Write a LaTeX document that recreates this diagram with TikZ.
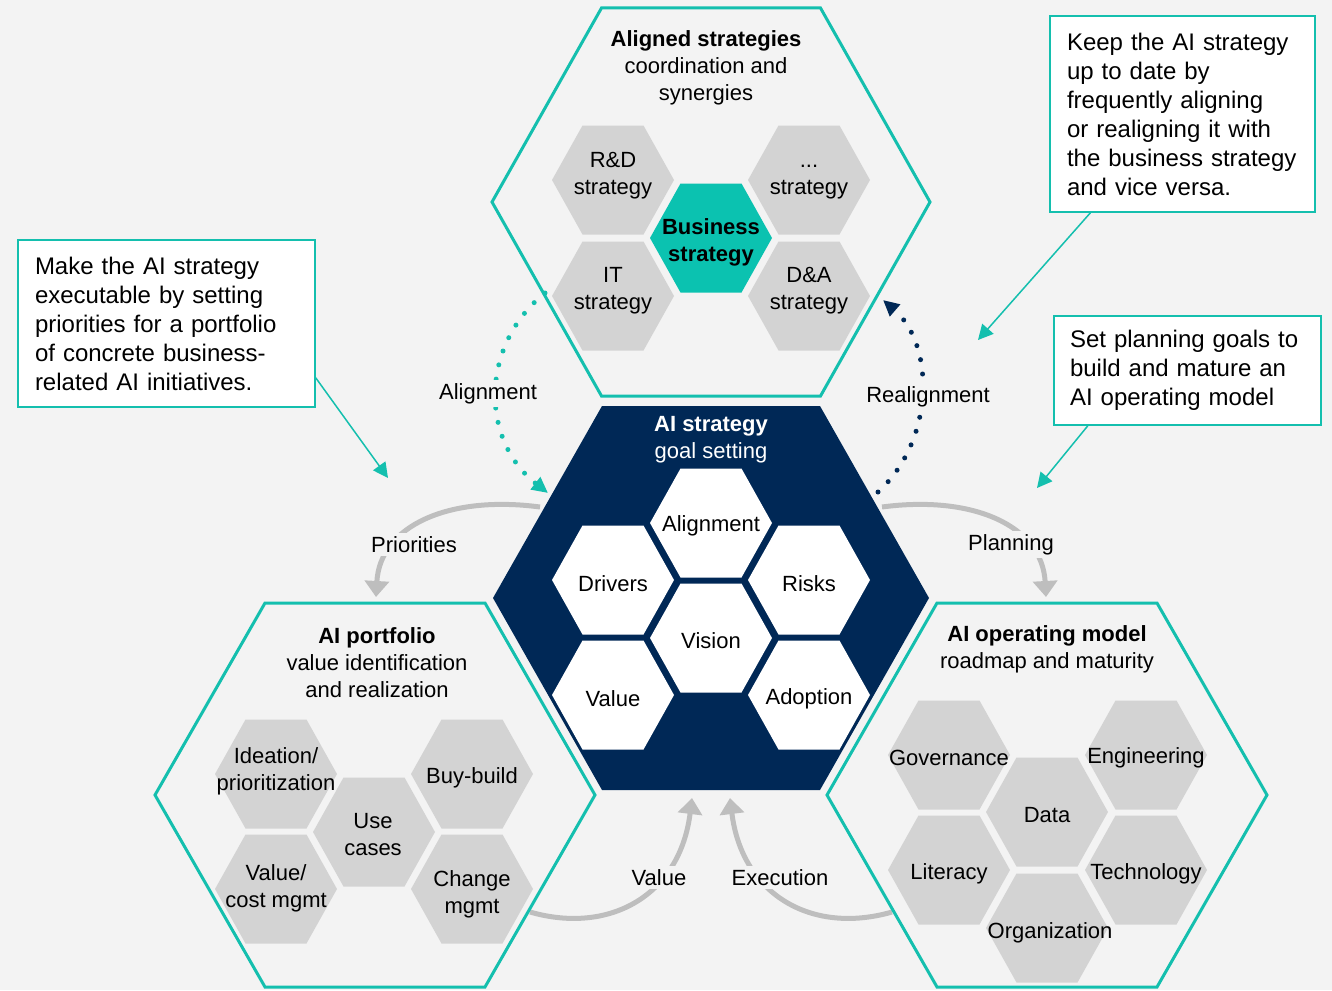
\documentclass[tikz,border=0pt]{standalone}
\usepackage{fontspec}
\setmainfont{Liberation Sans}
\usetikzlibrary{arrows.meta}
\definecolor{bg}{HTML}{F3F3F3}
\definecolor{tealline}{HTML}{14BFAE}
\definecolor{navy}{HTML}{002856}
\definecolor{hexgray}{HTML}{D3D3D3}
\definecolor{arcgray}{HTML}{BEBEBE}
\definecolor{bizteal}{HTML}{0BC2B0}
\newcommand{\myhex}[5]{\path[#1] ({#2+#4},#3) -- ({#2+#4/2},{#3-#5}) -- ({#2-#4/2},{#3-#5}) -- ({#2-#4},#3) -- ({#2-#4/2},{#3+#5}) -- ({#2+#4/2},{#3+#5}) -- cycle;}
\begin{document}
\begin{tikzpicture}[x=1pt,y=-1pt,
  txt/.style={font=\fontsize{22}{27}\selectfont, align=center, inner sep=0pt, yshift=-2.5pt},
  lbl/.style={font=\fontsize{22}{27}\selectfont, fill=bg, inner sep=3pt, yshift=-2.5pt},
  callout/.style={draw=tealline, line width=1.5pt, fill=white, align=left,
    font=\fontsize{24}{29}\selectfont, inner xsep=17pt, inner ysep=0pt},
  outerhex/.style={fill=bg, draw=tealline, line width=3pt},
  grayhex/.style={fill=hexgray},
  whitehex/.style={fill=white},
  grayarc/.style={draw=arcgray, line width=5pt, -{Triangle[length=16pt,width=24pt]}},
  dotteal/.style={draw=tealline, line width=5pt, line cap=round, dash pattern=on 0pt off 14.5pt,
    -{Triangle[length=16pt,width=15pt,fill=tealline]}},
  dotnavy/.style={draw=navy, line width=5pt, line cap=round, dash pattern=on 0pt off 14.5pt,
    -{Triangle[length=16pt,width=15pt,fill=navy]}},
  callarrow/.style={draw=tealline, line width=1.5pt, -{Triangle[length=15pt,width=15pt]}}
]
\fill[bg] (0,0) rectangle (1332,990);
\useasboundingbox (0,0) rectangle (1332,990);

% gray arcs (under the hexagons)
\coordinate (p1s) at (540,507); \coordinate (p1e) at (376,597);
\coordinate (p2s) at (882,507); \coordinate (p2e) at (1046,597);
\coordinate (v1s) at (530,912); \coordinate (v1e) at (692,798);
\coordinate (v2s) at (892,912); \coordinate (v2e) at (730,798);
\draw[grayarc] (p1s) .. controls (450,495) and (380,525) .. (p1e);
\draw[grayarc] (p2s) .. controls (972,495) and (1042,525) .. (p2e);
\draw[grayarc] (v1s) .. controls (610,935) and (680,895) .. (v1e);
\draw[grayarc] (v2s) .. controls (812,935) and (742,895) .. (v2e);

% big hexagons
\myhex{outerhex}{711}{202}{219}{194}
\myhex{fill=navy}{711}{598}{218}{192}
\myhex{outerhex}{375}{795}{220}{192}
\myhex{outerhex}{1047}{795}{220}{192}

% small hexagons: aligned strategies
\myhex{grayhex}{613}{180}{61}{54.5}
\myhex{grayhex}{809}{180}{61}{54.5}
\myhex{grayhex}{613}{296}{61}{54.5}
\myhex{grayhex}{809}{296}{61}{54.5}
\myhex{fill=bizteal}{711}{238}{61}{54.5}
% AI strategy
\myhex{whitehex}{711}{523}{61}{54.5}
\myhex{whitehex}{613}{580}{61}{54.5}
\myhex{whitehex}{809}{580}{61}{54.5}
\myhex{whitehex}{711}{638}{61}{54.5}
\myhex{whitehex}{613}{695}{61}{54.5}
\myhex{whitehex}{809}{695}{61}{54.5}
% AI portfolio
\myhex{grayhex}{276}{774}{61}{54.5}
\myhex{grayhex}{374}{832}{61}{54.5}
\myhex{grayhex}{472}{774}{61}{54.5}
\myhex{grayhex}{276}{889}{61}{54.5}
\myhex{grayhex}{472}{889}{61}{54.5}
% AI operating model
\myhex{grayhex}{949}{755}{61}{54.5}
\myhex{grayhex}{1047}{812}{61}{54.5}
\myhex{grayhex}{1146}{755}{61}{54.5}
\myhex{grayhex}{949}{870}{61}{54.5}
\myhex{grayhex}{1146}{870}{61}{54.5}
\myhex{grayhex}{1047}{928}{61}{54.5}

% texts: aligned strategies
\node[txt] (alt) at (706,65) {\textbf{Aligned strategies}\\coordination and\\synergies};
\node[txt] (rd) at (613,173.5) {R\&D\\strategy};
\node[txt] (ot) at (809,173.5) {\vphantom{R\&D}...\\strategy};
\node[txt] (biz) at (711,239.5) {\textbf{Business}\\\textbf{strategy}};
\node[txt] (it) at (613,288.5) {IT\\strategy};
\node[txt] (da) at (809,288.5) {D\&A\\strategy};
% AI strategy
\node[txt, text=white] (ais) at (711,437) {\textbf{AI strategy}\\goal setting};
\node[txt] (ali) at (711,523) {Alignment};
\node[txt] (drv) at (613,581) {Drivers};
\node[txt] (rsk) at (809,581) {Risks};
\node[txt] (vis) at (711,638) {Vision};
\node[txt] (val) at (613,696) {Value};
\node[txt] (ado) at (809,696) {Adoption};
% AI portfolio
\node[txt] (port) at (377,660.5) {\textbf{AI portfolio}\\value identification\\and realization};
\node[txt] (idea) at (276,769) {Ideation/\\prioritization};
\node[txt] (buy) at (472,775) {Buy-build};
\node[txt] (use) at (373,832.5) {Use\\cases};
\node[txt] (vcm) at (276,885.5) {Value/\\cost mgmt};
\node[txt] (chg) at (472,891.5) {Change\\mgmt};
% AI operating model
\node[txt] (opm) at (1047,647) {\textbf{AI operating model}\\roadmap and maturity};
\node[txt] (gov) at (949,755) {Governance};
\node[txt] (eng) at (1146,755) {Engineering};
\node[txt] (dat) at (1047,813) {Data};
\node[txt] (lit) at (949,871) {Literacy};
\node[txt] (tec) at (1146,871) {Technology};
\node[txt] (org) at (1050,930) {Organization};

% dotted arcs
\coordinate (a1s) at (545,293); \coordinate (a1e) at (548,493);
\coordinate (a2s) at (878,492); \coordinate (a2e) at (883,300);
\draw[dotteal] (a1s) .. controls (480,345) and (480,440) .. (a1e);
\draw[dotnavy] (a2s) .. controls (935,440) and (935,345) .. (a2e);

% arc labels
\node[lbl] (lalign) at (488,391) {Alignment};
\node[lbl] (lrealign) at (928,394) {Realignment};
\node[lbl] (lprio) at (414,542) {Priorities};
\node[lbl] (lplan) at (1011,542) {Planning};
\node[lbl] (lval) at (659,875) {Value};
\node[lbl] (lexe) at (780,875) {Execution};

% callouts
\node[callout, minimum width=297pt, minimum height=167pt, text width=263pt] (c1) at (166.5,323.5)
  {Make the AI strategy\\executable by setting\\priorities for a portfolio\\of concrete business-\\related AI initiatives.};
\node[callout, minimum width=265pt, minimum height=196pt, text width=231pt] (c2) at (1182.5,114)
  {Keep the AI strategy\\up to date by\\frequently aligning\\or realigning it with\\the business strategy\\and vice versa.};
\node[callout, minimum width=267pt, minimum height=109pt, text width=235pt, inner xsep=16pt] (c3) at (1187.5,370.5)
  {Set planning goals to\\build and mature an\\AI operating model};

\coordinate (t1) at (388,478);
\coordinate (t2) at (978,340);
\coordinate (t3) at (1037,488);
\draw[callarrow] (c1.-20) -- (t1);
\draw[callarrow] (c2.227.3) -- (t2);
\draw[callarrow] (c3.209.7) -- (t3);
\end{tikzpicture}
\end{document}
